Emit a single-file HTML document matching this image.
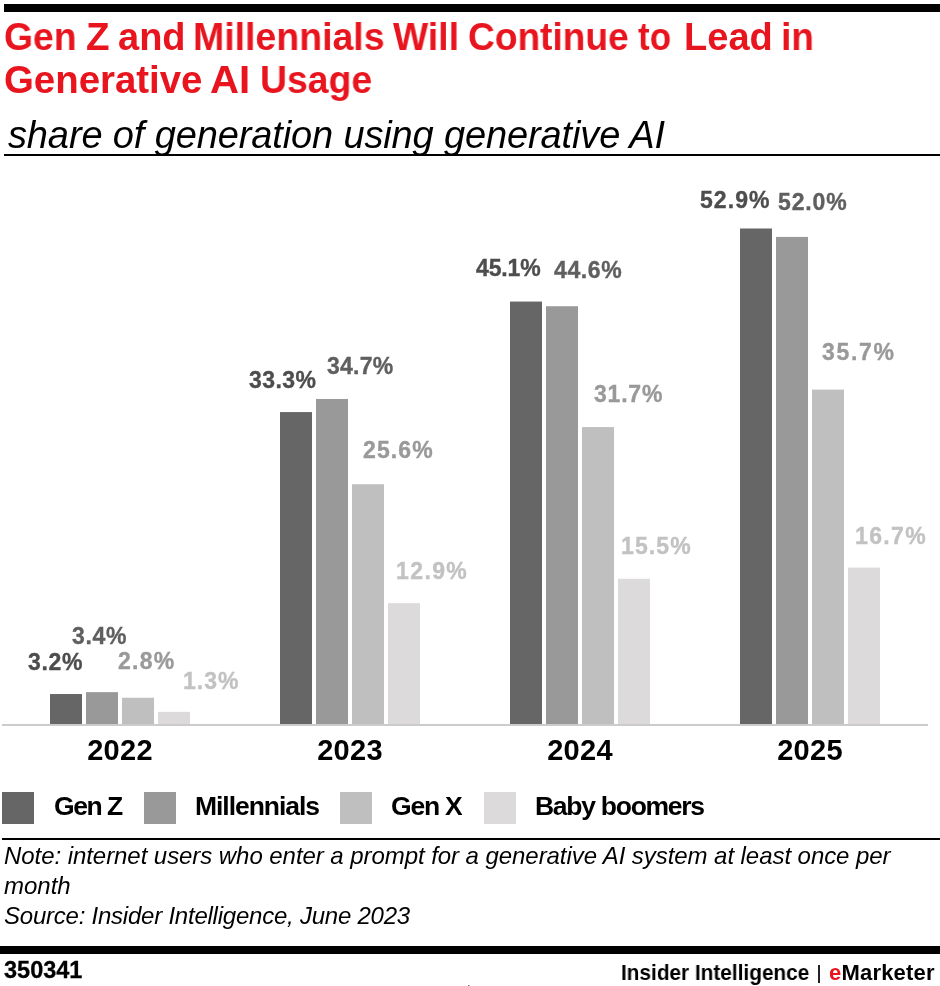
<!DOCTYPE html><html><head><meta charset="utf-8"><style>
html,body{margin:0;padding:0;background:#fff;} body{width:940px;height:986px;position:relative;overflow:hidden;font-family:"Liberation Sans", sans-serif;}
.a{position:absolute;white-space:nowrap;line-height:1;will-change:transform;}
.r{position:absolute;}
</style></head><body>
<div class="r" style="left:4px;top:4px;width:936px;height:8px;background:#000"></div>
<div class="a" style="left:4.32px;top:17.53px;font-size:38px;font-weight:bold;color:#e8141e;transform-origin:0 0;transform:scaleX(0.9817)">Gen</div>
<div class="a" style="left:85.69px;top:17.53px;font-size:38px;font-weight:bold;color:#e8141e;transform-origin:0 0;transform:scaleX(1.0143)">Z</div>
<div class="a" style="left:118.30px;top:17.53px;font-size:38px;font-weight:bold;color:#e8141e;transform-origin:0 0;transform:scaleX(1.0000)">and</div>
<div class="a" style="left:192.83px;top:17.53px;font-size:38px;font-weight:bold;color:#e8141e;transform-origin:0 0;transform:scaleX(0.9859)">Millennials</div>
<div class="a" style="left:393.40px;top:17.53px;font-size:38px;font-weight:bold;color:#e8141e;transform-origin:0 0;transform:scaleX(0.9815)">Will</div>
<div class="a" style="left:467.92px;top:17.53px;font-size:38px;font-weight:bold;color:#e8141e;transform-origin:0 0;transform:scaleX(0.9761)">Continue</div>
<div class="a" style="left:638.00px;top:17.53px;font-size:38px;font-weight:bold;color:#e8141e;transform-origin:0 0;transform:scaleX(0.9200)">to</div>
<div class="a" style="left:684.00px;top:17.53px;font-size:38px;font-weight:bold;color:#e8141e;transform-origin:0 0;transform:scaleX(1.0012)">Lead</div>
<div class="a" style="left:780.55px;top:17.53px;font-size:38px;font-weight:bold;color:#e8141e;transform-origin:0 0;transform:scaleX(0.9767)">in</div>
<div class="a" style="left:4.29px;top:61.33px;font-size:38px;font-weight:bold;color:#e8141e;transform-origin:0 0;transform:scaleX(1.0103)">Generative</div>
<div class="a" style="left:210.44px;top:61.33px;font-size:38px;font-weight:bold;color:#e8141e;transform-origin:0 0;transform:scaleX(1.0571)">AI</div>
<div class="a" style="left:259.93px;top:61.33px;font-size:38px;font-weight:bold;color:#e8141e;transform-origin:0 0;transform:scaleX(0.9829)">Usage</div>
<div class="a" style="left:8px;top:115.83px;font-size:38px;font-style:italic;color:#000;letter-spacing:-0.13px">share of generation using generative AI</div>
<div class="r" style="left:4px;top:154px;width:936px;height:2px;background:#000"></div>
<svg class="r" style="left:0;top:0" width="940" height="986" viewBox="0 0 940 986" shape-rendering="geometricPrecision"><rect x="50" y="694.03" width="32" height="30.97" fill="#666666"/><rect x="280" y="412.08" width="32" height="312.92" fill="#666666"/><rect x="510" y="301.55" width="32" height="423.45" fill="#666666"/><rect x="740" y="228.49" width="32" height="496.51" fill="#666666"/><rect x="86" y="692.15" width="32" height="32.85" fill="#999999"/><rect x="316" y="398.97" width="32" height="326.03" fill="#999999"/><rect x="546" y="306.23" width="32" height="418.77" fill="#999999"/><rect x="776" y="236.92" width="32" height="488.08" fill="#999999"/><rect x="122" y="697.77" width="32" height="27.23" fill="#bfbfbf"/><rect x="352" y="484.20" width="32" height="240.80" fill="#bfbfbf"/><rect x="582" y="427.07" width="32" height="297.93" fill="#bfbfbf"/><rect x="812" y="389.60" width="32" height="335.40" fill="#bfbfbf"/><rect x="158" y="711.82" width="32" height="13.18" fill="#dcdadb"/><rect x="388" y="603.17" width="32" height="121.83" fill="#dcdadb"/><rect x="618" y="578.81" width="32" height="146.19" fill="#dcdadb"/><rect x="848" y="567.57" width="32" height="157.43" fill="#dcdadb"/><rect x="2" y="724" width="926" height="2" fill="#cccccc"/></svg>
<div class="a" style="left:28.20px;top:650.53px;font-size:23px;font-weight:bold;color:#4d4d4d;letter-spacing:0.67px;-webkit-text-stroke:0.35px #4d4d4d">3.2%</div>
<div class="a" style="left:72.20px;top:624.53px;font-size:23px;font-weight:bold;color:#5f5f5f;letter-spacing:0.67px;-webkit-text-stroke:0.35px #5f5f5f">3.4%</div>
<div class="a" style="left:118.20px;top:650.23px;font-size:23px;font-weight:bold;color:#999999;letter-spacing:1.23px;-webkit-text-stroke:0.35px #999999">2.8%</div>
<div class="a" style="left:183.40px;top:670.23px;font-size:23px;font-weight:bold;color:#c2c2c2;letter-spacing:1.03px;-webkit-text-stroke:0.35px #c2c2c2">1.3%</div>
<div class="a" style="left:248.80px;top:368.83px;font-size:23px;font-weight:bold;color:#4d4d4d;letter-spacing:0.45px;-webkit-text-stroke:0.35px #4d4d4d">33.3%</div>
<div class="a" style="left:326.60px;top:355.33px;font-size:23px;font-weight:bold;color:#5f5f5f;letter-spacing:0.25px;-webkit-text-stroke:0.35px #5f5f5f">34.7%</div>
<div class="a" style="left:363.00px;top:438.53px;font-size:23px;font-weight:bold;color:#999999;letter-spacing:1.1px;-webkit-text-stroke:0.35px #999999">25.6%</div>
<div class="a" style="left:395.60px;top:560.33px;font-size:23px;font-weight:bold;color:#c2c2c2;letter-spacing:1.4px;-webkit-text-stroke:0.35px #c2c2c2">12.9%</div>
<div class="a" style="left:476.20px;top:256.73px;font-size:23px;font-weight:bold;color:#4d4d4d;letter-spacing:-0.15px;-webkit-text-stroke:0.35px #4d4d4d">45.1%</div>
<div class="a" style="left:554.20px;top:259.13px;font-size:23px;font-weight:bold;color:#5f5f5f;letter-spacing:0.6px;-webkit-text-stroke:0.35px #5f5f5f">44.6%</div>
<div class="a" style="left:594.20px;top:382.53px;font-size:23px;font-weight:bold;color:#999999;letter-spacing:0.78px;-webkit-text-stroke:0.35px #999999">31.7%</div>
<div class="a" style="left:621.40px;top:535.03px;font-size:23px;font-weight:bold;color:#c2c2c2;letter-spacing:1.12px;-webkit-text-stroke:0.35px #c2c2c2">15.5%</div>
<div class="a" style="left:699.60px;top:188.63px;font-size:23px;font-weight:bold;color:#4d4d4d;letter-spacing:1.08px;-webkit-text-stroke:0.35px #4d4d4d">52.9%</div>
<div class="a" style="left:777.60px;top:190.53px;font-size:23px;font-weight:bold;color:#5f5f5f;letter-spacing:0.85px;-webkit-text-stroke:0.35px #5f5f5f">52.0%</div>
<div class="a" style="left:822.20px;top:340.83px;font-size:23px;font-weight:bold;color:#999999;letter-spacing:1.7px;-webkit-text-stroke:0.35px #999999">35.7%</div>
<div class="a" style="left:855.00px;top:524.73px;font-size:23px;font-weight:bold;color:#c2c2c2;letter-spacing:1.35px;-webkit-text-stroke:0.35px #c2c2c2">16.7%</div>
<div class="a" style="left:60px;width:120px;text-align:center;top:736.45px;font-size:29px;font-weight:bold;color:#000;letter-spacing:0.3px">2022</div>
<div class="a" style="left:290px;width:120px;text-align:center;top:736.45px;font-size:29px;font-weight:bold;color:#000;letter-spacing:0.3px">2023</div>
<div class="a" style="left:520px;width:120px;text-align:center;top:736.45px;font-size:29px;font-weight:bold;color:#000;letter-spacing:0.3px">2024</div>
<div class="a" style="left:750px;width:120px;text-align:center;top:736.45px;font-size:29px;font-weight:bold;color:#000;letter-spacing:0.3px">2025</div>
<div class="r" style="left:2px;top:792px;width:32px;height:32px;background:#666666"></div>
<div class="a" style="left:53.50px;top:793.16px;font-size:26.5px;font-weight:bold;color:#000;letter-spacing:-1.45px">Gen Z</div>
<div class="r" style="left:144px;top:792px;width:32px;height:32px;background:#999999"></div>
<div class="a" style="left:195.10px;top:793.16px;font-size:26.5px;font-weight:bold;color:#000;letter-spacing:-1.05px">Millennials</div>
<div class="r" style="left:340px;top:792px;width:32px;height:32px;background:#bfbfbf"></div>
<div class="a" style="left:390.70px;top:793.16px;font-size:26.5px;font-weight:bold;color:#000;letter-spacing:-1.2px">Gen X</div>
<div class="r" style="left:484px;top:792px;width:32px;height:32px;background:#dcdadb"></div>
<div class="a" style="left:535.10px;top:793.16px;font-size:26.5px;font-weight:bold;color:#000;letter-spacing:-1.27px">Baby boomers</div>
<div class="r" style="left:2px;top:838px;width:938px;height:2px;background:#000"></div>
<div class="a" style="left:4px;top:843.68px;font-size:24px;font-style:italic;color:#000;letter-spacing:-0.06px">Note: internet users who enter a prompt for a generative AI system at least once per</div>
<div class="a" style="left:4px;top:873.68px;font-size:24px;font-style:italic;color:#000;letter-spacing:0px">month</div>
<div class="a" style="left:4px;top:903.68px;font-size:24px;font-style:italic;color:#000;letter-spacing:-0.23px">Source: Insider Intelligence, June 2023</div>
<div class="r" style="left:0px;top:946px;width:940px;height:8px;background:#000"></div>
<div class="a" style="left:3.5px;top:959.10px;font-size:23.5px;font-weight:bold;color:#000;-webkit-text-stroke:0.3px #000">350341</div>
<div class="a" style="left:620.5px;top:962.17px;font-size:22px;font-weight:bold;color:#000;transform-origin:0 0;transform:scaleX(0.945)">Insider Intelligence</div>
<div class="r" style="left:818px;top:965px;width:2px;height:18px;background:#222"></div>
<div class="a" style="left:828.8px;top:962.17px;font-size:22px;font-weight:bold;color:#000;letter-spacing:0.2px"><span style="color:#e8141e">e</span>Marketer</div>
<div class="r" style="left:468px;top:985px;width:1px;height:1px;background:#777"></div><div class="r" style="left:469px;top:985px;width:1px;height:1px;background:#bbb"></div>
</body></html>
